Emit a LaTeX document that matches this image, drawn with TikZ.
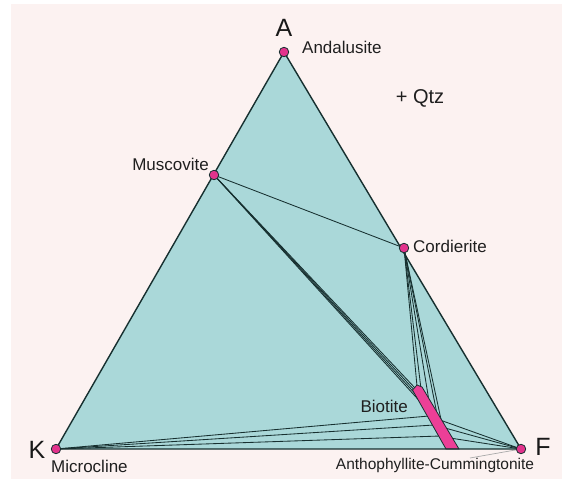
\documentclass[tikz,border=0pt]{standalone}
\usepackage{fontspec}
\setmainfont{Liberation Sans}
\definecolor{bg}{HTML}{FCF2F1}
\definecolor{tri}{HTML}{AAD8D9}
\definecolor{edge}{HTML}{173030}
\definecolor{mag}{HTML}{E2338C}
\definecolor{band}{HTML}{EC3F97}
\definecolor{leader}{HTML}{A9A9A9}
\begin{document}
\begin{tikzpicture}[x=1pt,y=-1pt,
  mineral/.style={circle,draw=edge,fill=mag,line width=0.8pt,minimum size=9.5pt,inner sep=0pt},
  lbl/.style={inner sep=0pt,font=\fontsize{17}{20}\selectfont,text=black!88},
  corner/.style={inner sep=0pt,font=\fontsize{25}{28}\selectfont,text=black!90},
  tie/.style={draw=edge,line width=0.85pt},
  side/.style={draw=edge,line width=1.4pt}]
\useasboundingbox (0,0) rectangle (562,479);
\fill[white] (0,0) rectangle (562,479);
\fill[bg] (11,4) rectangle (562,479);
% phase positions
\coordinate (pA) at (284,52);
\coordinate (pK) at (56,449);
\coordinate (pF) at (521,449);
\coordinate (pM) at (214,175);
\coordinate (pC) at (404,248);
\fill[tri] (pA) -- (pK) -- (pF) -- cycle;
% points on the biotite band
\coordinate (m1) at (415,388);
\coordinate (m2) at (418,394);
\coordinate (m3) at (421,400);
\coordinate (m4) at (425,407);
\coordinate (c1) at (417,386);
\coordinate (c2) at (421,389);
\coordinate (c3) at (429,401);
\coordinate (c4) at (437,414);
\coordinate (c5) at (442,424);
\coordinate (k1) at (429,416);
\coordinate (k2) at (434,425);
\coordinate (k3) at (440,436);
\coordinate (f1) at (440,420);
\coordinate (f2) at (445,428);
\coordinate (f3) at (450,438);
\coordinate (ld) at (470,458);
% tie lines
\path[tie] (pM) -- (pC);
\foreach \p in {m1,m2,m3,m4} \path[tie] (pM) -- (\p);
\foreach \p in {c1,c2,c3,c4,c5} \path[tie] (pC) -- (\p);
\foreach \p in {k1,k2,k3} \path[tie] (pK) -- (\p);
\foreach \p in {f1,f2,f3} \path[tie] (pF) -- (\p);
\draw[leader,line width=0.7pt] (pF) -- (ld);
% biotite solid solution
\filldraw[fill=band,draw=edge,line width=0.8pt] (412.5,390) -- (417,385) -- (422,387) -- (459,449) -- (446,449) -- cycle;
% triangle sides
\path[side] (pA) -- (pK) -- (pF) -- cycle;
% phases
\node[mineral] (and) at (pA) {};
\node[mineral] (mus) at (pM) {};
\node[mineral] (crd) at (pC) {};
\node[mineral] (mic) at (pK) {};
\node[mineral] (ath) at (pF) {};
% labels
\node[corner] (tA) at (284,28) {A};
\node[corner] (tK) at (37,450) {K};
\node[corner] (tF) at (543,447) {F};
\node[lbl,anchor=west] (lAnd) at (302,47) {Andalusite};
\node[lbl,font=\fontsize{20}{24}\selectfont] (lQtz) at (420,98) {+ Qtz};
\node[lbl,anchor=east] (lMus) at (209,164) {Muscovite};
\node[lbl,anchor=west] (lCrd) at (413,246) {Cordierite};
\node[lbl,anchor=east] (lBt) at (408,406) {Biotite};
\node[lbl,anchor=west] (lMic) at (51,466) {Microcline};
\node[lbl,font=\fontsize{15.5}{18}\selectfont] (lAth) at (435,465) {Anthophyllite-Cummingtonite};
\end{tikzpicture}
\end{document}
